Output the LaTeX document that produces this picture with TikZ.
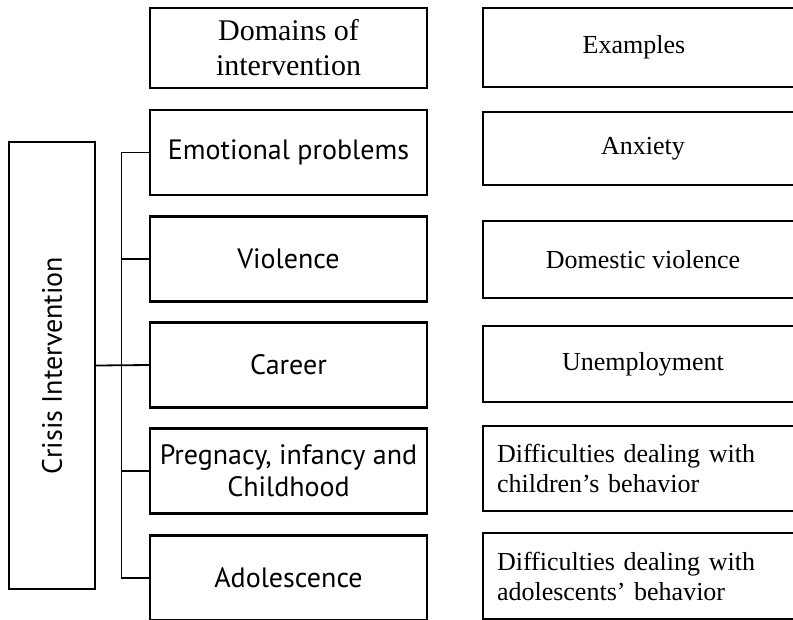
\documentclass[tikz,border=0pt]{standalone}
\usepackage{fontspec}
\setmainfont{Liberation Serif}
\newfontfamily\sansf{PT Sans}
\usepackage{xcolor}
\usepackage{tikz}

\begin{document}
\begin{tikzpicture}[x=1pt,y=-1pt,line width=2.4pt,
  dom/.style={rectangle,draw,minimum width=277pt,minimum height=85pt,align=center,font=\sansf\fontsize{28}{32}\selectfont},
  exa/.style={rectangle,draw,minimum width=320pt,minimum height=77pt,align=center,font=\fontsize{26}{30}\selectfont}]
%\draw[help lines] (0,0) grid[step=50] (793,619);
\useasboundingbox (0,0) rectangle (793,619);
\clip (0,0) rectangle (793,619);
\path (0,0)
(52,365.5) node(crisis) [rectangle,draw,minimum width=447pt,minimum height=86pt,rotate=90,font=\sansf\fontsize{28}{32}\selectfont] {Crisis Intervention}
(288.5,48) node(head) [dom,minimum height=80pt,font=\fontsize{30}{35}\selectfont] {Domains of\\intervention}
(288.5,152.5) node(emo) [dom] {Emotional problems}
(288.5,259) node(vio) [dom] {Violence}
(288.5,365) node(car) [dom] {Career}
(288.5,471) node(preg) [dom] {Pregnacy, infancy and\\Childhood}
(288.5,578) node(ado) [dom] {Adolescence}
(643,47.5) node(ex) [exa,minimum height=79pt] {\hspace*{-18pt}Examples}
(643,148.5) node(anx) [exa,minimum height=73pt] {Anxiety}
(643,259.5) node(domv) [exa] {Domestic violence}
(643,364) node(unem) [exa,minimum height=76pt] {Unemployment}
(643,468.5) node(dch) [exa,minimum height=85pt,align=left,text width=292pt] {Difficulties dealing with\\children's behavior}
(643,576) node(dad) [exa,minimum height=86pt,align=left,text width=292pt] {Difficulties dealing with\\adolescents' behavior};

\draw[line width=1.8pt] (crisis.south) -- (car.west);
\draw[line width=1.1pt] (emo.west) -- ++(-27,0) |- (ado.west);
\draw[line width=1.1pt] (vio.west) -- ++(-27,0);
\draw[line width=1.1pt] (preg.west) -- ++(-27,0);
\end{tikzpicture}
\end{document}
